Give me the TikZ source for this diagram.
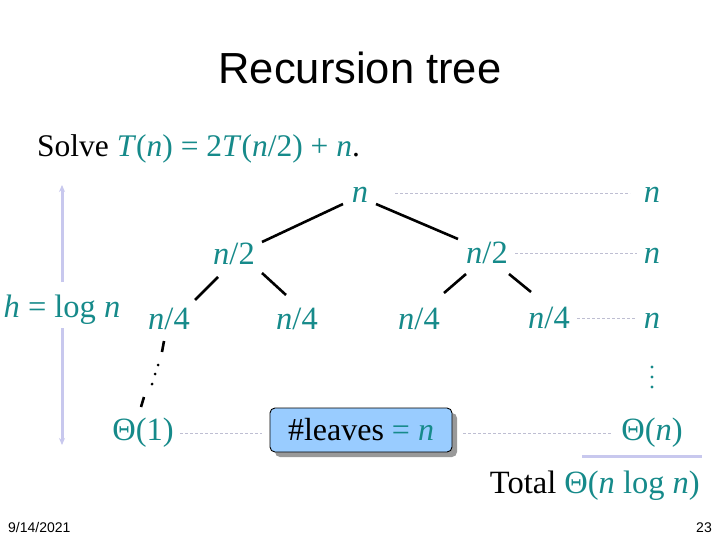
\documentclass[tikz,border=0pt]{standalone}
\usepackage{fontspec}
\setmainfont{Liberation Serif}
\newfontfamily\sansfam{Liberation Sans}
\usetikzlibrary{calc,shadows,arrows.meta}
\definecolor{tealtxt}{RGB}{22,138,138}
\definecolor{lav}{RGB}{200,200,238}
\definecolor{guidegray}{RGB}{190,190,210}
\definecolor{boxblue}{RGB}{153,204,255}
\newcommand{\vn}{\textit{n}}
\begin{document}
\begin{tikzpicture}[x=1pt,y=-1pt,
  lbl/.style={font=\fontsize{32.5}{38}\selectfont, text=tealtxt, inner sep=0pt, anchor=base},
  treeedge/.style={line width=2.6pt, black},
  guide/.style={guidegray, line width=0.8pt, dash pattern=on 3pt off 2pt},
  lavline/.style={lav, line width=3pt},
  leafbox/.style={draw=black, line width=0.9pt, fill=boxblue, rounded corners=5pt,
    minimum width=182pt, minimum height=44pt, inner sep=0pt,
    font=\fontsize{32}{38}\selectfont,
    drop shadow={shadow xshift=5pt, shadow yshift=-5pt, fill=gray!80, opacity=1}}
]
\useasboundingbox (0,0) rectangle (720,540);
\fill[white] (0,0) rectangle (720,540);

% title and statement
\node[font=\sansfam\fontsize{43.5}{50}\selectfont, anchor=base, inner sep=0pt] (title) at (360,84) {Recursion tree};
\node[font=\fontsize{31.5}{36}\selectfont, anchor=base west, inner sep=0pt] (solve) at (37,157)
  {Solve {\color{tealtxt}\textit{T}(\vn) = 2\textit{T}(\vn/2) + \vn}.};

% tree nodes
\node[lbl] (root) at (360,203) {\vn};
\node[lbl] (l2a) at (234,264) {\vn/2};
\node[lbl] (l2b) at (487,263) {\vn/2};
\node[lbl] (l3a) at (169,329) {\vn/4};
\node[lbl] (l3b) at (297,329) {\vn/4};
\node[lbl] (l3c) at (419,329) {\vn/4};
\node[lbl] (l3d) at (549,328) {\vn/4};
\node[lbl] (leaf) at (143,440) {Θ(1)};

% level sums
\node[lbl] (sum1) at (652,203) {\vn};
\node[lbl] (sum2) at (652,263) {\vn};
\node[lbl] (sum3) at (652,328) {\vn};
\coordinate (vd) at (652,377);
\foreach \dy in {-10,0,10} \fill[tealtxt] ($(vd)+(0,\dy)$) circle (1.6pt);
\node[lbl] (sumL) at (652,440) {Θ(\vn)};
\node[font=\fontsize{32.5}{38}\selectfont, anchor=base east, inner sep=0pt] (total) at (700,493)
  {Total {\color{tealtxt}Θ(\vn\ log \vn)}};

% height label and arrow
\node[lbl] (h) at (62,317) {\textit{h} = log \vn};
\coordinate (atop) at (62,185);
\coordinate (abot) at (62,445);
\draw[lavline, -{Stealth[length=7pt,width=6pt]}] ($(h.base)+(0,-35)$) -- (atop);
\draw[lavline, -{Stealth[length=7pt,width=6pt]}] ($(h.base)+(0,11)$) -- (abot);

% leaves box
\node[leafbox] (box) at (361,430) {\#leaves {\color{tealtxt}= \vn}};

% tree edges
\draw[treeedge] ($(root.base)+(-17,1)$) -- ($(l2a.base)+(28,-22)$);
\draw[treeedge] ($(root.base)+(16,1)$) -- ($(l2b.base)+(-29,-24)$);
\draw[treeedge] ($(l2a.base)+(-16,13)$) -- ($(l3a.base)+(26,-29)$);
\draw[treeedge] ($(l2a.base)+(28,9)$) -- ($(l3b.base)+(-11,-34)$);
\draw[treeedge] ($(l2b.base)+(-21,11)$) -- ($(l3c.base)+(25,-36)$);
\draw[treeedge] ($(l2b.base)+(22,11)$) -- ($(l3d.base)+(-18,-36)$);

% dotted path from l3a to leaf
\draw[treeedge] ($(l3a.base)+(-5,12)$) -- ($(l3a.base)+(-7,23)$);
\fill ($(l3a.base)+(-11,36)$) circle (1.5pt);
\fill ($(l3a.base)+(-14,45)$) circle (1.5pt);
\fill ($(l3a.base)+(-17,55)$) circle (1.5pt);
\draw[treeedge] ($(leaf.base)+(1,-43)$) -- ($(leaf.base)+(-2,-33)$);

% guides
\draw[guide] ($(root.base)+(35,-10)$) -- ($(sum1.base)+(-22,-10)$);
\draw[guide] ($(l2b.base)+(28,-10)$) -- ($(sum2.base)+(-15,-10)$);
\draw[guide] ($(l3d.base)+(28,-10)$) -- ($(sum3.base)+(-17,-10)$);
\draw[guide] ($(leaf.base)+(37,-7)$) -- ($(box.west)+(-8,3)$);
\draw[guide] ($(box.east)+(11,3)$) -- ($(sumL.base)+(-39,-7)$);

% sum underline
\draw[lavline] ($(sumL.base)+(-70,16)$) -- ($(sumL.base)+(50,16)$);

% footer
\node[font=\sansfam\fontsize{14}{16}\selectfont, anchor=base west, inner sep=0pt] (date) at (8,532) {9/14/2021};
\node[font=\sansfam\fontsize{14}{16}\selectfont, anchor=base east, inner sep=0pt] (page) at (712,532) {23};
\end{tikzpicture}
\end{document}
